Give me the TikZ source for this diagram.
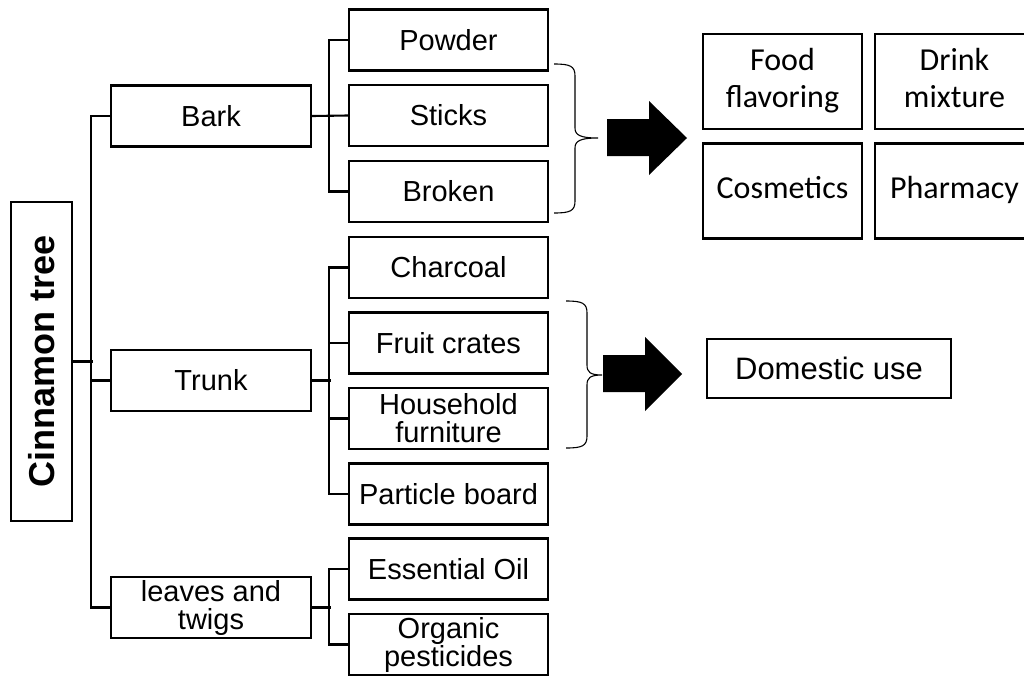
\documentclass[tikz,border=0pt]{standalone}
\usepackage{fontspec}
\setmainfont{Liberation Sans}
\newfontfamily\calibfont{Carlito}
\begin{document}
\begin{tikzpicture}[x=1pt,y=-1pt,
  box/.style={draw, line width=2.1pt, inner sep=0pt, align=center,
    font=\fontsize{29}{28}\selectfont},
  item/.style={box, minimum width=199pt, minimum height=61pt},
  branch/.style={box, minimum width=200pt, minimum height=61pt},
  usebox/.style={draw, line width=2.1pt, inner sep=0pt, align=center,
    minimum width=159pt, minimum height=95pt, text depth=7pt,
    font=\calibfont\fontsize{32}{37}\selectfont},
  link/.style={line width=2.1pt, line join=miter},
  brace/.style={line width=1.1pt},
  bigarrow/.style={fill=black}]
\clip (0,0) rectangle (1024,675);

% root of the tree
\node[box, minimum width=61pt, minimum height=319pt,
  font=\bfseries\fontsize{36}{36}\selectfont] (root) at (41.5,361.5)
  {\rotatebox{90}{Cinnamon tree}};

% parts of the tree
\node[branch] (bark)   at (211,116)   {Bark};
\node[branch] (trunk)  at (211,380.5) {Trunk};
\node[branch] (leaves) at (211,607.5) {leaves and\\twigs};

% products
\node[item] (powder)    at (448.5,40)    {Powder};
\node[item] (sticks)    at (448.5,115.5) {Sticks};
\node[item] (broken)    at (448.5,191.5) {Broken};
\node[item] (charcoal)  at (448.5,267.5) {Charcoal};
\node[item] (fruit)     at (448.5,343)   {Fruit crates};
\node[item] (household) at (448.5,418.5) {Household\\furniture};
\node[item] (particle)  at (448.5,494)   {Particle board};
\node[item] (oil)       at (448.5,569)   {Essential Oil};
\node[item] (organic)   at (448.5,644.5) {Organic\\pesticides};

% uses
\node[usebox] (food)  at (782.5,81.5) {Food\\flavoring};
\node[usebox] (drink) at (954.5,81.5) {Drink\\mixture};
\node[usebox] (cosm)  at (782.5,191)  {Cosmetics};
\node[usebox] (pharm) at (954.5,191)  {Pharmacy};
\node[box, minimum width=244pt, minimum height=59pt,
  font=\fontsize{31}{31}\selectfont] (domestic) at (829,368.5) {Domestic use};

% tree connectors
\draw[link] (root.east) -- ++(20,0);
\draw[link] (bark.west) -- ++(-19,0) |- (leaves.west);
\draw[link] (trunk.west) -- ++(-19,0);

\draw[link] (bark.east) -- (sticks.west);
\draw[link] (powder.west) -- ++(-19,0) |- (broken.west);

\draw[link] (trunk.east) -- ++(19,0);
\draw[link] (charcoal.west) -- ++(-19,0) |- (particle.west);
\draw[link] (fruit.west) -- ++(-19,0);
\draw[link] (household.west) -- ++(-19,0);

\draw[link] (leaves.east) -- ++(19,0);
\draw[link] (oil.west) -- ++(-19,0) |- (organic.west);

% braces
\coordinate (b1top) at (554,64);
\coordinate (b1tip) at (598,138);
\coordinate (b1bot) at (554,213);
\draw[brace] (b1top) .. controls (570,64) and (575,66) .. (575,76)
  -- (575,128) .. controls (575,135) and (580,138) .. (b1tip)
  .. controls (580,138) and (575,141) .. (575,148)
  -- (575,201) .. controls (575,211) and (570,213) .. (b1bot);

\coordinate (b2top) at (566,301);
\coordinate (b2tip) at (602,375);
\coordinate (b2bot) at (566,448);
\draw[brace] (b2top) .. controls (582,301) and (587,303) .. (587,313)
  -- (587,365) .. controls (587,372) and (590,375) .. (b2tip)
  .. controls (590,375) and (587,378) .. (587,385)
  -- (587,436) .. controls (587,446) and (582,448) .. (b2bot);

% block arrows
\fill[bigarrow] (607,119) -- (649,119) -- (649,101) -- (687,138)
  -- (649,175) -- (649,156) -- (607,156) -- cycle;
\fill[bigarrow] (603,355) -- (645,355) -- (645,337) -- (682,374)
  -- (645,411) -- (645,392) -- (603,392) -- cycle;
\end{tikzpicture}
\end{document}
